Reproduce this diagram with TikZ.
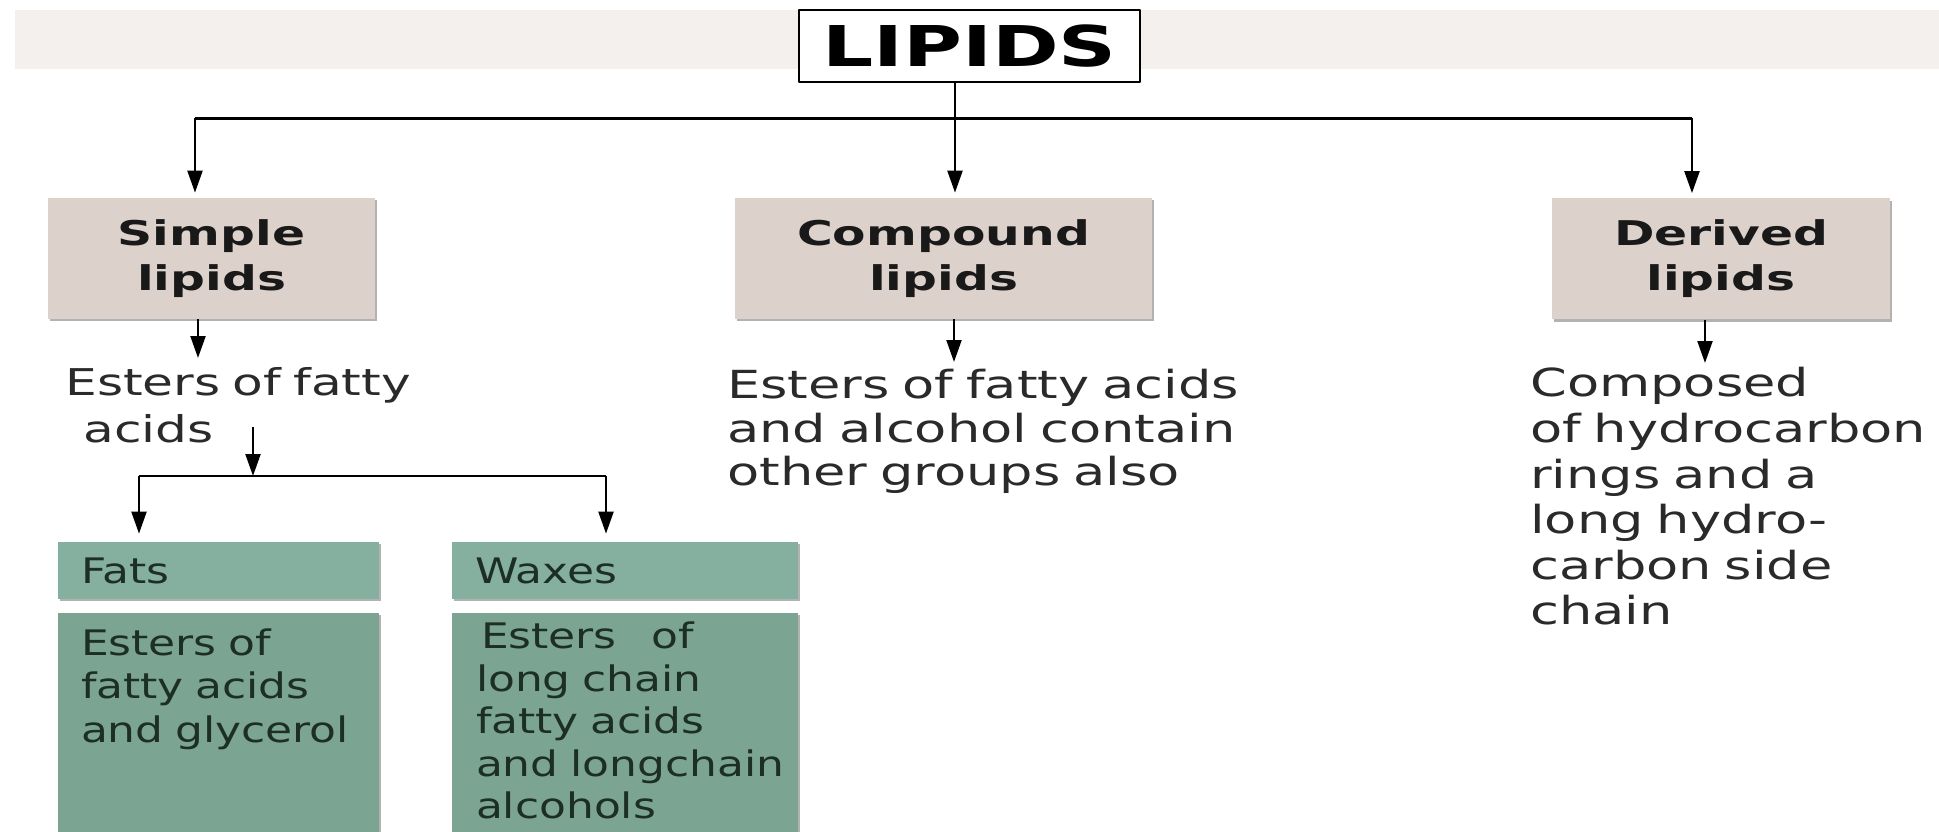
\documentclass[tikz,border=0pt]{standalone}
\usepackage{fontspec}
\setmainfont[FakeStretch=1.36]{DejaVu Sans}
\newfontfamily\headfont[FakeStretch=1.43]{DejaVu Sans}
\newfontfamily\boxfont[FakeStretch=1.25]{DejaVu Sans}
\usepackage{xcolor}
\usetikzlibrary{arrows.meta,calc,positioning,shadows}

\definecolor{bandgray}{HTML}{F3F0ED}
\definecolor{tanbox}{HTML}{DDD1CB}
\definecolor{tealhead}{HTML}{85AF9E}
\definecolor{tealbody}{HTML}{7BA492}
\definecolor{inkgray}{HTML}{2A2A2A}
\definecolor{tealink}{HTML}{1C2E25}

\begin{document}
\begin{tikzpicture}[>={Triangle[length=12.5pt,width=8.5pt]},line join=round,
  link/.style={black,line width=1.3pt},
  boxshadow/.style={drop shadow={shadow xshift=1.3pt,shadow yshift=-1.3pt,
    shadow scale=1,fill=black!55,opacity=0.55}},
  titlebox/.style={draw=black,line width=1.2pt,fill=white,inner sep=0pt,
    font=\headfont\bfseries\fontsize{32}{36}\selectfont},
  catbox/.style={fill=tanbox,boxshadow,inner sep=0pt,align=center,
    minimum height=2.42cm,text=black!90,
    font=\headfont\bfseries\fontsize{19.4}{25.5}\selectfont},
  note/.style={anchor=base west,inner sep=0pt,text width=12cm,align=left,
    text=inkgray,font=\fontsize{22}{24.6}\selectfont},
  headbox/.style={fill=tealhead,boxshadow,inner xsep=0.46cm,inner ysep=0pt,
    minimum height=1.14cm,align=left,text=tealink,
    font=\boxfont\fontsize{20}{24.8}\selectfont},
  bodybox/.style={fill=tealbody,boxshadow,inner sep=0pt,minimum height=4.54cm},
  boxnote/.style={anchor=base west,inner sep=0pt,text width=8cm,align=left,
    text=tealink,font=\boxfont\fontsize{20}{24.6}\selectfont}]

  \useasboundingbox (0,0) rectangle (38.78,-16.64);

  %% ---------------------------------------------------------------
  %% TITLE
  %% ---------------------------------------------------------------
  % light banner behind the title
  \fill[bandgray] (0.3,-0.2) rectangle (38.78,-1.38);
  \node[titlebox,minimum width=6.82cm,minimum height=1.44cm] (lipids)
    at (19.39,-0.92) {LIPIDS};

  % bus line to the three classes
  \coordinate (busL) at (3.9,-2.37);
  \coordinate (busC) at (19.1,-2.37);
  \coordinate (busR) at (33.84,-2.37);
  \draw[link] (lipids.south -| busC) -- (busC);
  \draw[link] (busL) -- (busR);

  %% ---------------------------------------------------------------
  %% THREE CLASSES
  %% ---------------------------------------------------------------
  \node[catbox,minimum width=6.54cm] (simple) at (4.23,-5.17) {Simple\\lipids};
  \node[catbox,minimum width=8.34cm] (compound) at (18.87,-5.17) {Compound\\lipids};
  \node[catbox,minimum width=6.76cm] (derived) at (34.42,-5.18) {Derived\\lipids};

  \draw[link,->,shorten >=0.1cm] (busL) -- (busL |- simple.north);
  \draw[link,->,shorten >=0.1cm] (busC) -- (busC |- compound.north);
  \draw[link,->,shorten >=0.1cm] (busR) -- (busR |- derived.north);

  % short drops to the descriptions
  \coordinate (dropS) at (3.96,-7.16);
  \coordinate (dropC) at (19.08,-7.24);
  \coordinate (dropD) at (34.1,-7.26);
  \draw[link,->] (simple.south -| dropS) -- (dropS);
  \draw[link,->] (compound.south -| dropC) -- (dropC);
  \draw[link,->] (derived.south -| dropD) -- (dropD);

  \node[note,font=\fontsize{21}{26.5}\selectfont] (simplenote) at (1.3,-7.92)
    {Esters of fatty\\\hspace*{0.36cm}acids};
  \node[note] (compoundnote) at (14.54,-7.98)
    {Esters of fatty acids\\and alcohol contain\\other groups also};
  \node[note,font=\fontsize{22}{25.9}\selectfont] (derivednote) at (30.6,-7.94)
    {Composed\\of hydrocarbon\\rings and a\\long hydro-\\carbon side\\chain};

  %% ---------------------------------------------------------------
  %% SIMPLE LIPIDS: fats and waxes
  %% ---------------------------------------------------------------
  \coordinate (split) at (5.06,-9.52);
  \draw[link,->] ($(simplenote.base -| split)+(0,-0.62)$) -- (split);
  \coordinate (fatsTop) at (2.78,-9.52);
  \coordinate (waxTop) at (12.12,-9.52);
  \draw[link] (fatsTop) -- (waxTop);

  \node[headbox,text width=5.5cm] (fats) at (4.37,-11.41) {Fats};
  \node[headbox,text width=6.0cm] (waxes) at (12.5,-11.41) {Waxes};
  \draw[link,->,shorten >=0.16cm] (fatsTop) -- (fatsTop |- fats.north);
  \draw[link,->,shorten >=0.16cm] (waxTop) -- (waxTop |- waxes.north);

  % descriptions below the headers (run off the lower edge)
  \node[bodybox,minimum width=6.42cm] (fatsbody) at (4.37,-14.53) {};
  \node[bodybox,minimum width=6.92cm] (waxbody) at (12.5,-14.53) {};
  \node[boxnote] (fatsnote) at ($(fatsbody.north west)+(0.46,-0.86)$)
    {Esters of\\fatty acids\\and glycerol};
  \node[boxnote,font=\boxfont\fontsize{20}{24.2}\selectfont] (waxnote)
    at ($(waxbody.north west)+(0.48,-0.72)$)
    {\hspace*{0.1cm}Esters\ \ \ of\\long chain\\fatty acids\\and longchain\\alcohols};

\end{tikzpicture}
\end{document}
